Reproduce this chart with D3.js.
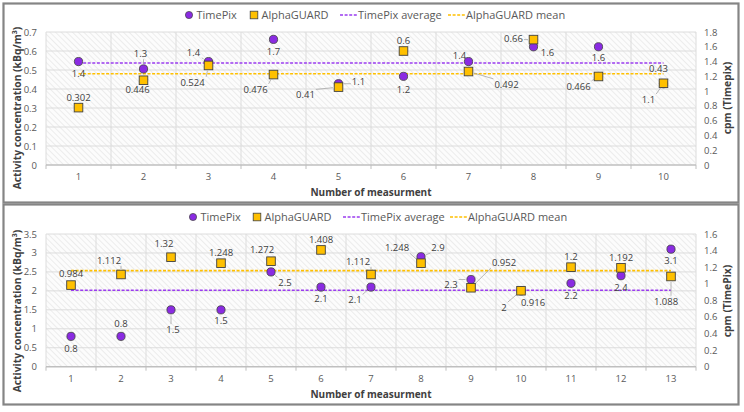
<!DOCTYPE html>
<html><head><meta charset="utf-8">
<script src="https://cdn.jsdelivr.net/npm/d3@7"></script>
<style>body{margin:0;background:#fff} svg{display:block} text{font-family:"Open Sans",sans-serif}</style>
</head><body><svg id="c" width="744" height="412"></svg>
<script>
// ---------- data ----------
const topCategories = ["1","2","3","4","5","6","7","8","9","10"];
const topTimePix = [1.4, 1.3, 1.4, 1.7, 1.1, 1.2, 1.4, 1.6, 1.6, 1.1];          // cpm (right axis)
const topAlphaGuard = [0.302, 0.446, 0.524, 0.476, 0.41, 0.6, 0.492, 0.66, 0.466, 0.43]; // kBq/m3 (left axis)
const topLeftTicks = [0, 0.1, 0.2, 0.3, 0.4, 0.5, 0.6, 0.7];
const topRightTicks = [0, 0.2, 0.4, 0.6, 0.8, 1, 1.2, 1.4, 1.6, 1.8];

const bottomCategories = ["1","2","3","4","5","6","7","8","9","10","11","12","13"];
const bottomTimePix = [0.8, 0.8, 1.5, 1.5, 2.5, 2.1, 2.1, 2.9, 2.3, 2, 2.2, 2.4, 3.1];   // left axis
const bottomAlphaGuard = [0.984, 1.112, 1.32, 1.248, 1.272, 1.408, 1.112, 1.248, 0.952, 0.916, 1.2, 1.192, 1.088]; // right axis
const bottomLeftTicks = [0, 0.5, 1, 1.5, 2, 2.5, 3, 3.5];
const bottomRightTicks = [0, 0.2, 0.4, 0.6, 0.8, 1, 1.2, 1.4, 1.6];

const legendNames = ["TimePix", "AlphaGUARD", "TimePix average", "AlphaGUARD mean"];

// ---------- label layout (offsets of label centre from its marker, leader flag) ----------
const topTpLabelPos = [[0,12,0],[-3,-15,1],[-15,-9,1],[0,12,0],[20,-2,1],[0,13,0],[-9,-6,1],[14,6,1],[0,11,0],[-15,16,1]];
const topAgLabelPos = [[0,-10,0],[-6,9,0],[-16,17,1],[-18,15,1],[-33,8,1],[0,-10,0],[38,13,1],[-20,-1,1],[-20,10,1],[-5,-15,0]];
const botTpLabelPos = [[0,12,0],[0,-13,0],[2,20,1],[0,11,0],[14,11,1],[0,12,0],[-16,13,1],[17,-9,1],[-20,5,1],[-17,17,1],[0,12,0],[0,12,0],[0,12,0]];
const botAgLabelPos = [[0,-11,0],[-12,-14,1],[-7,-14,0],[0,-10,0],[-9,-12,1],[0,-10,0],[-13,-13,1],[-24,-15,1],[33,-25,1],[12,12,1],[0,-10,0],[0,-10,0],[-5,25,1]];

const PURPLE = "#8a2be2", ORANGE = "#ffc000";
const svg = d3.select("#c");

const defs = svg.append("defs");
const pat = defs.append("pattern").attr("id","hatch").attr("width",4).attr("height",4)
  .attr("patternUnits","userSpaceOnUse").attr("patternTransform","rotate(-45)");
pat.append("rect").attr("width",4).attr("height",4).attr("fill","#fcfcfc");
pat.append("line").attr("x1",0).attr("y1",0).attr("x2",0).attr("y2",4).attr("stroke","#e9e9e9").attr("stroke-width",1.6);

function drawPanel(cfg) {
  const g = svg.append("g");
  g.append("rect").attr("x",cfg.box[0]).attr("y",cfg.box[1]).attr("width",cfg.box[2]).attr("height",cfg.box[3])
    .attr("fill","#fff").attr("stroke","#858585").attr("stroke-width",2.2);

  const x = d3.scaleBand().domain(cfg.cats).range([cfg.left, cfg.right]);
  const yL = d3.scaleLinear().domain([0, d3.max(cfg.leftTicks)]).range([cfg.bottom, cfg.top]);
  const yR = d3.scaleLinear().domain([0, d3.max(cfg.rightTicks)]).range([cfg.bottom, cfg.top]);
  const cx = c => x(c) + x.bandwidth()/2;

  g.append("rect").attr("x",cfg.left).attr("y",cfg.top).attr("width",cfg.right-cfg.left).attr("height",cfg.bottom-cfg.top)
    .attr("fill","url(#hatch)");
  g.selectAll(".hg").data(cfg.leftTicks.slice(1)).join("line")
    .attr("x1",cfg.left).attr("x2",cfg.right).attr("y1",d=>yL(d)).attr("y2",d=>yL(d))
    .attr("stroke","#dcdcdc").attr("stroke-width",1);
  const bounds = cfg.cats.map(c => x(c)).concat([cfg.right]);
  g.selectAll(".vg").data(bounds).join("line")
    .attr("x1",d=>d).attr("x2",d=>d).attr("y1",cfg.top).attr("y2",cfg.bottom)
    .attr("stroke","#dcdcdc").attr("stroke-width",1);
  g.append("line").attr("x1",cfg.left).attr("x2",cfg.right).attr("y1",cfg.bottom).attr("y2",cfg.bottom)
    .attr("stroke","#bfbfbf").attr("stroke-width",1.5);
  g.selectAll(".xt").data(bounds).join("line")
    .attr("x1",d=>d).attr("x2",d=>d).attr("y1",cfg.bottom).attr("y2",cfg.bottom+4)
    .attr("stroke","#bfbfbf").attr("stroke-width",1);
  g.selectAll(".xl").data(cfg.cats).join("text")
    .attr("x",d=>cx(d)).attr("y",cfg.bottom+15).attr("text-anchor","middle")
    .attr("font-size",9.5).attr("fill","#595959").text(d=>d);
  g.selectAll(".yl").data(cfg.leftTicks).join("text")
    .attr("x",cfg.left-9).attr("y",d=>yL(d)+3.5).attr("text-anchor","end")
    .attr("font-size",9.5).attr("fill","#595959").text(d=>d);
  g.selectAll(".yr").data(cfg.rightTicks).join("text")
    .attr("x",cfg.right+8).attr("y",d=>yR(d)+3.5).attr("text-anchor","start")
    .attr("font-size",9.5).attr("fill","#595959").text(d=>d);

  g.append("text").attr("x",371).attr("y",cfg.bottom+31).attr("text-anchor","middle")
    .attr("font-size",10).attr("font-weight","bold").attr("fill","#404040").text("Number of measurment");
  const lt = g.append("text").attr("transform",`translate(21,${cfg.leftTitleY}) rotate(-90)`).attr("text-anchor","middle")
    .attr("font-size",10.3).attr("font-weight","bold").attr("fill","#404040");
  lt.append("tspan").text("Activity concentration (kBq/m");
  lt.append("tspan").attr("font-size",7).attr("dy",-4).text("3");
  lt.append("tspan").attr("dy",4).text(")");
  g.append("text").attr("transform",`translate(731,${cfg.rightTitleY}) rotate(-90)`).attr("text-anchor","middle")
    .attr("font-size",10.3).attr("font-weight","bold").attr("fill","#404040").text(cfg.rightTitle);

  const yTp = cfg.tpAxis === "left" ? yL : yR;
  const yAg = cfg.tpAxis === "left" ? yR : yL;
  const first = cx(cfg.cats[0]), last = cx(cfg.cats[cfg.cats.length-1]);
  const tpAvg = d3.mean(cfg.tp), agMean = d3.mean(cfg.ag);
  g.append("line").attr("x1",first).attr("x2",last).attr("y1",yAg(agMean)).attr("y2",yAg(agMean))
    .attr("stroke",ORANGE).attr("stroke-width",1.6).attr("stroke-dasharray","3,1.6");
  g.append("line").attr("x1",first).attr("x2",last).attr("y1",yTp(tpAvg)).attr("y2",yTp(tpAvg))
    .attr("stroke","#9b3cf0").attr("stroke-width",1.4).attr("stroke-dasharray","3,1.6");

  const leaders = g.append("g");
  const marks = g.append("g");
  const labels = g.append("g");

  function series(vals, yS, pos, isTp) {
    vals.forEach((v,i) => {
      const px = cx(cfg.cats[i]), py = yS(v);
      if (isTp) {
        marks.append("circle").attr("cx",px).attr("cy",py).attr("r",4.1)
          .attr("fill",PURPLE).attr("stroke","#404040").attr("stroke-width",0.8);
      } else {
        marks.append("rect").attr("x",px-4.3).attr("y",py-4.3).attr("width",8.6).attr("height",8.6)
          .attr("fill",ORANGE).attr("stroke","#404040").attr("stroke-width",0.9);
      }
      const [dx,dy,lead] = pos[i];
      const t = labels.append("text").attr("x",px+dx).attr("y",py+dy+3.3).attr("text-anchor","middle")
        .attr("font-size",9.5).attr("fill","#404040").text(v);
      if (lead) {
        const b = t.node().getBBox();
        const bx = b.x-1, by = b.y+1, bw = b.width+2, bh = b.height-2;
        const qx = Math.max(bx, Math.min(px, bx+bw)), qy = Math.max(by, Math.min(py, by+bh));
        const d = Math.hypot(qx-px, qy-py);
        if (d > 7) {
          const sx = px + (qx-px)/d*5.5, sy = py + (qy-py)/d*5.5;
          leaders.append("line").attr("x1",sx).attr("y1",sy).attr("x2",qx).attr("y2",qy)
            .attr("stroke","#a6a6a6").attr("stroke-width",0.8);
        }
      }
    });
  }
  series(cfg.tp, yTp, cfg.tpPos, true);
  series(cfg.ag, yAg, cfg.agPos, false);

  const ly = cfg.legendY;
  const lg = g.append("g");
  const lx = cfg.legendX;
  lg.append("circle").attr("cx",lx[0]).attr("cy",ly).attr("r",3.6).attr("fill",PURPLE).attr("stroke","#404040").attr("stroke-width",0.7);
  lg.append("rect").attr("x",lx[1]-3.8).attr("y",ly-3.8).attr("width",7.6).attr("height",7.6).attr("fill",ORANGE).attr("stroke","#404040").attr("stroke-width",0.8);
  lg.append("line").attr("x1",lx[2]-9).attr("x2",lx[2]+8).attr("y1",ly).attr("y2",ly).attr("stroke","#9b3cf0").attr("stroke-width",1.4).attr("stroke-dasharray","3,1.6");
  lg.append("line").attr("x1",lx[3]-9).attr("x2",lx[3]+8).attr("y1",ly).attr("y2",ly).attr("stroke",ORANGE).attr("stroke-width",1.6).attr("stroke-dasharray","3,1.6");
  legendNames.forEach((n,i) => {
    lg.append("text").attr("x",lx[i] + (i<2 ? 7.5 : 9)).attr("y",ly+4).attr("font-size",11).attr("fill","#595959").text(n);
  });
}

drawPanel({
  box:[3.5,3.5,735,199], cats: topCategories, tp: topTimePix, ag: topAlphaGuard,
  leftTicks: topLeftTicks, rightTicks: topRightTicks, tpAxis: "right",
  left: 46, right: 696, top: 32, bottom: 165,
  leftTitleY: 108, rightTitleY: 98, rightTitle: "cpm (Timepix)",
  tpPos: topTpLabelPos, agPos: topAgLabelPos,
  legendY: 15, legendX: [189, 254, 349, 457]
});
drawPanel({
  box:[3.5,204.5,735,200], cats: bottomCategories, tp: bottomTimePix, ag: bottomAlphaGuard,
  leftTicks: bottomLeftTicks, rightTicks: bottomRightTicks, tpAxis: "left",
  left: 46, right: 696, top: 234, bottom: 366.7,
  leftTitleY: 311, rightTitleY: 301, rightTitle: "cpm (TimePix)",
  tpPos: botTpLabelPos, agPos: botAgLabelPos,
  legendY: 217, legendX: [193, 257, 352, 459]
});
</script></body></html>
